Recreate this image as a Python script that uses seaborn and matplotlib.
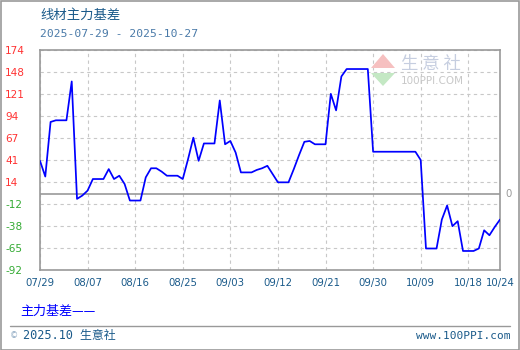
import matplotlib
matplotlib.use("Agg")
import matplotlib.pyplot as plt
import matplotlib.dates as mdates
from matplotlib.patches import Polygon, Rectangle
from matplotlib.lines import Line2D
import seaborn as sns
import pandas as pd
import numpy as np

# ---- data ----
start_date = "2025-07-29"
day_offsets = [0, 1, 2, 3, 5, 6, 7, 8, 9, 10, 12, 13, 14, 15, 16, 17, 19, 20, 21, 22, 23, 24,
               26, 27, 28, 29, 30, 31, 33, 34, 35, 36, 37, 38, 40, 41, 42, 43, 44, 45, 47,
               48, 49, 50, 51, 52, 54, 55, 56, 57, 58, 62, 63, 71, 72, 73, 75, 76, 77, 78,
               79, 80, 82, 83, 84, 85, 86, 87]
basis_values = [40, 21, 87, 89, 89, 136, -6, -2, 4, 18, 18, 30, 18, 22, 12, -8, -8, 20, 31, 31, 27, 22,
                22, 18, 42, 68, 40, 61, 61, 113, 60, 64, 50, 26, 26, 29, 31, 34, 24, 14, 14,
                30, 47, 63, 64, 60, 60, 121, 101, 142, 151, 151, 51, 51, 41, -66, -66, -31, -14, -39,
                -33, -69, -69, -66, -44, -50, -40, -31]
x_tick_labels = ["07/29", "08/07", "08/16", "08/25", "09/03", "09/12", "09/21", "09/30",
                 "10/09", "10/18", "10/24"]
x_tick_dates = ["2025-07-29", "2025-08-07", "2025-08-16", "2025-08-25", "2025-09-03",
                "2025-09-12", "2025-09-21", "2025-09-30", "2025-10-09", "2025-10-18", "2025-10-24"]
y_tick_labels = ["-92", "-65", "-38", "-12", "14", "41", "67", "94", "121", "148", "174"]
y_min, y_max = -92, 174

title = "线材主力基差"
subtitle = "2025-07-29 - 2025-10-27"
legend_label = "主力基差"

dates = pd.to_datetime(start_date) + pd.to_timedelta(day_offsets, unit="D")
df = pd.DataFrame({"date": dates, "value": basis_values})

sns.set_theme(style="white")
plt.rcParams["font.family"] = ["Noto Sans CJK SC", "DejaVu Sans"]

W, H = 520, 350
fig = plt.figure(figsize=(W / 100, H / 100), dpi=100)
fig.patch.set_facecolor("white")

L, R, T, B = 40, 500, 50, 270
ax = fig.add_axes([L / W, 1 - B / H, (R - L) / W, (B - T) / H])
ax.set_facecolor("white")

# grid
yt = np.linspace(y_min, y_max, len(y_tick_labels))
xt = pd.to_datetime(x_tick_dates)
ax.set_ylim(y_min, y_max)
ax.set_xlim(pd.to_datetime(x_tick_dates[0]), pd.to_datetime(x_tick_dates[-1]))
ax.set_yticks(yt)
ax.set_yticklabels(y_tick_labels)
ax.set_xticks(xt)
ax.set_xticklabels(x_tick_labels)
ax.grid(True, color="#c8c8c8", linestyle=(0, (3, 3)), linewidth=0.8)
ax.set_axisbelow(True)
ax.axhline(0, color="#999999", linewidth=1.2, zorder=1.5)

sns.lineplot(data=df, x="date", y="value", ax=ax, color="#0000ff", linewidth=1.25, zorder=3)
ax.set_xlabel("")
ax.set_ylabel("")

for s in ax.spines.values():
    s.set_color("#999999")
    s.set_linewidth(1.2)

ax.tick_params(axis="y", length=0, pad=25.2, labelsize=7.6)
for lab in ax.get_yticklabels():
    lab.set_ha("left")
    lab.set_family("DejaVu Sans")
    txt = lab.get_text().replace("−", "-")
    lab.set_color("#33aa33" if txt.startswith("-") else "#ff3333")
ax.tick_params(axis="x", length=0, pad=6.0, labelsize=7.3, colors="#1a5a8a")
for lab in ax.get_xticklabels():
    lab.set_family("DejaVu Sans")

ax.text(1.012, 0, "0", transform=ax.get_yaxis_transform(), color="#999999",
        va="center", ha="left", fontsize=7.3, family="DejaVu Sans")

# titles
fig.text(40 / W, 1 - 15 / H, title, fontsize=9.6, color="#1a5a8a", va="center", ha="left")
fig.text(40 / W, 1 - 34 / H, subtitle, fontsize=8.2, color="#4a7aa8", va="center", ha="left",
         family="DejaVu Sans Mono")

# watermark
fig.patches.append(Polygon([[371 / W, 1 - 68 / H], [395 / W, 1 - 68 / H], [383 / W, 1 - 54 / H]],
                           closed=True, transform=fig.transFigure, facecolor="#f6c0c0", edgecolor="none", zorder=0.5))
fig.patches.append(Polygon([[371 / W, 1 - 73 / H], [395 / W, 1 - 73 / H], [383 / W, 1 - 86 / H]],
                           closed=True, transform=fig.transFigure, facecolor="#c4e8c4", edgecolor="none", zorder=0.5))
fig.text(431 / W, 1 - 64 / H, "生 意 社", fontsize=12.5, color="#c6cee0", va="center", ha="center", zorder=0.5)
fig.text(432 / W, 1 - 81 / H, "100PPI.COM", fontsize=7.5, color="#c8c8c8", va="center", ha="center",
         family="DejaVu Sans", zorder=0.5)

# legend
fig.text(20 / W, 1 - 311 / H, legend_label + "——", fontsize=9.4, color="#0000ff", va="center", ha="left")

# footer
fig.lines.append(Line2D([10 / W, 510 / W], [1 - 326 / H, 1 - 326 / H], transform=fig.transFigure,
                        color="#999999", linewidth=1.0))
fig.text(10 / W, 1 - 336 / H, "©", fontsize=6, color="#8aa6c0", va="center", ha="left", family="DejaVu Sans")
fig.text(23 / W, 1 - 336 / H, "2025.10 生意社", fontsize=8.6, color="#1a5a8a", va="center", ha="left",
         family=["DejaVu Sans Mono", "Noto Sans CJK SC"])
fig.text(510 / W, 1 - 336 / H, "www.100PPI.com", fontsize=8.0, color="#1a5a8a", va="center", ha="right",
         family="DejaVu Sans Mono")

# outer frame
fig.patches.append(Rectangle((0.5 / W, 0.5 / H), 1 - 1.5 / W, 1 - 1.5 / H, transform=fig.transFigure,
                             facecolor="none", edgecolor="#999999", linewidth=1.2))

fig.savefig("out.png", dpi=100, facecolor="white")
